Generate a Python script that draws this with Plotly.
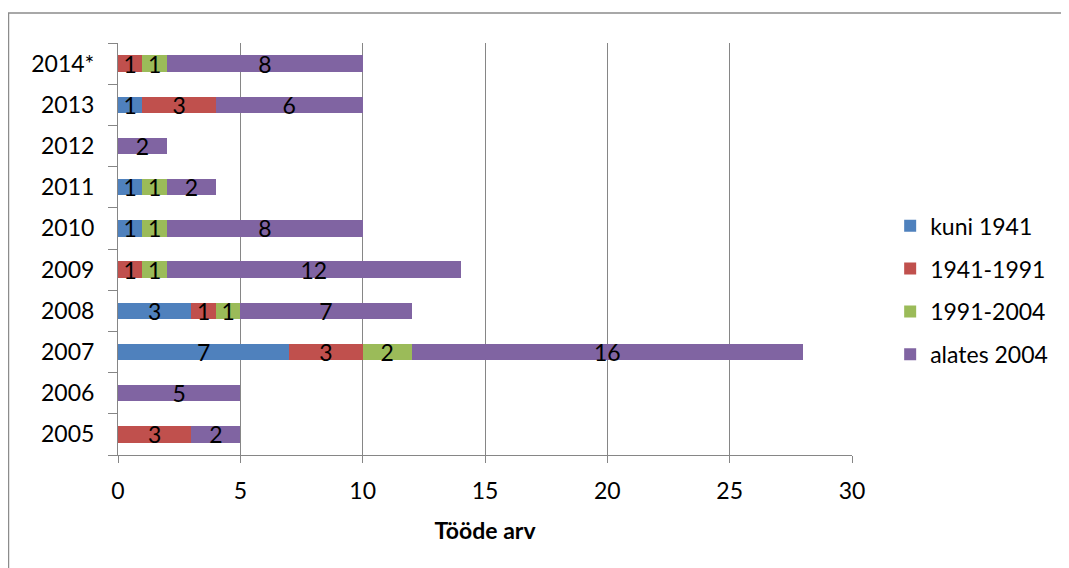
"""
Stacked horizontal bar chart: number of works per year by period
"""
import plotly.graph_objects as go

YEARS = ["2005", "2006", "2007", "2008", "2009", "2010", "2011", "2012", "2013", "2014*"]
KUNI_1941 = [0, 0, 7, 3, 0, 1, 1, 0, 1, 0]
P_1941_1991 = [3, 0, 3, 1, 1, 0, 0, 0, 3, 1]
P_1991_2004 = [0, 0, 2, 1, 1, 1, 1, 0, 0, 1]
ALATES_2004 = [2, 5, 16, 7, 12, 8, 2, 2, 6, 8]

SERIES = [
    ("kuni 1941", KUNI_1941, "#4F81BD"),
    ("1941-1991", P_1941_1991, "#C0504D"),
    ("1991-2004", P_1991_2004, "#9BBB59"),
    ("alates 2004", ALATES_2004, "#8064A2"),
]

FONT = "Lato"
FS = 23
GRID = "#868686"

fig = go.Figure()

for name, values, color in SERIES:
    fig.add_trace(go.Bar(
        y=YEARS,
        x=values,
        name=name,
        legendgroup=name,
        orientation="h",
        marker=dict(color=color, line=dict(width=0)),
        text=[str(v) if v else "" for v in values],
        textposition="inside",
        insidetextanchor="middle",
        textangle=0,
        constraintext="none",
        textfont=dict(family=FONT, size=FS, color="black"),
        cliponaxis=False,
    ))

# page body has an 8px margin, so the figure is a bit smaller than the window
fig.update_layout(
    barmode="stack",
    bargap=0.6,
    width=1061,
    height=560,
    margin=dict(l=110, r=217, t=35, b=113),
    paper_bgcolor="white",
    plot_bgcolor="white",
    font=dict(family=FONT, size=FS, color="black"),
    showlegend=True,
    legend=dict(
        x=1.052, y=0.40, xanchor="left", yanchor="middle",
        traceorder="grouped",
        tracegroupgap=10,
        font=dict(family=FONT, size=FS),
        itemwidth=30,
    ),
    xaxis=dict(
        range=[0, 30],
        dtick=5,
        showgrid=True,
        gridcolor=GRID,
        gridwidth=1,
        showline=True,
        linecolor=GRID,
        linewidth=1,
        ticks="outside",
        ticklen=7,
        tickcolor=GRID,
        ticklabelstandoff=8,
        zeroline=False,
        title=dict(text="<b>Tööde arv</b>", font=dict(family=FONT, size=FS), standoff=20),
    ),
    yaxis=dict(
        categoryorder="array",
        categoryarray=YEARS,
        showline=True,
        linecolor=GRID,
        linewidth=1,
        ticks="outside",
        tickson="boundaries",
        ticklen=9,
        tickcolor=GRID,
        ticklabelstandoff=18,
        showgrid=False,
    ),
    shapes=[dict(
        type="rect", xref="paper", yref="paper",
        x0=-0.1492, x1=1.286, y0=-0.4, y1=1.0728,
        line=dict(color="#8C8C8C", width=1.5),
        fillcolor="rgba(0,0,0,0)",
        layer="below",
    )],
)

fig.write_html("out.html")
